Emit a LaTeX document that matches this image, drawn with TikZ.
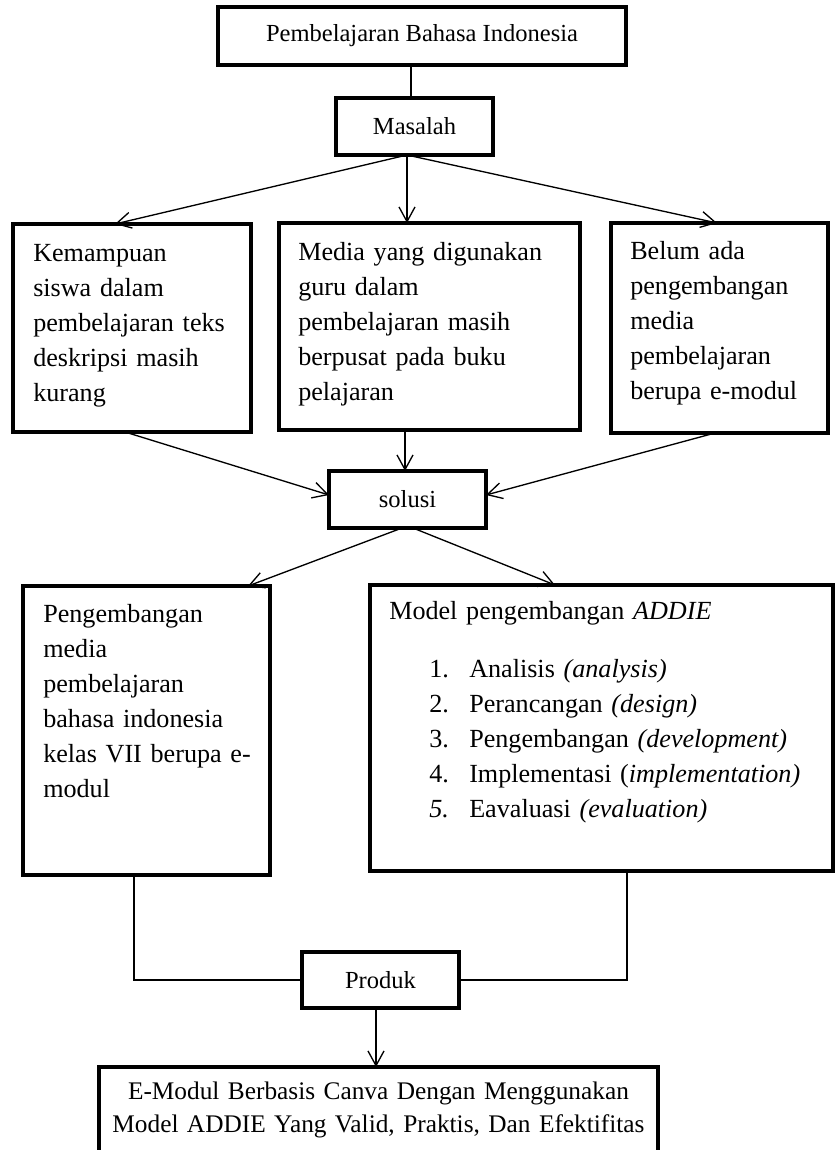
\documentclass[tikz,border=0pt]{standalone}
\usepackage{fontspec}
\setmainfont{Liberation Serif}
\usetikzlibrary{arrows.meta,fit}
\newcommand{\bigf}{\fontsize{19.6}{26.25}\selectfont}
\newcommand{\smallf}{\fontsize{18.4}{22}\selectfont}
\newcommand{\finf}{\fontsize{19}{24.75}\selectfont}
\begin{document}
\begin{tikzpicture}[x=0.75pt,y=-0.75pt,
  box/.style={draw, line width=2.4pt, inner sep=0pt},
  lbl/.style={font=\smallf, inner sep=0pt, anchor=center},
  conn/.style={line width=1pt},
  arr/.style={conn, -{Straight Barb[length=11pt,width=12pt]}},
  para/.style={font=\bigf, anchor=base west, inner sep=0pt, align=left, text width=#1},
]
\useasboundingbox (0,0) rectangle (835,1150);
\clip (0,0) rectangle (835,1150);

% boxes
\node[box, fit={(218,7)(626,65)}] (top) {};
\node[box, fit={(336,98)(493,155)}] (mas) {};
\node[box, fit={(13,224)(251,432)}] (b1) {};
\node[box, fit={(279,223)(580,430)}] (b2) {};
\node[box, fit={(611,223)(828,433)}] (b3) {};
\node[box, fit={(329,471)(486,528)}] (sol) {};
\node[box, fit={(23,586)(270,875)}] (b4) {};
\node[box, fit={(370,585)(833,871)}] (b5) {};
\node[box, fit={(302,952)(459,1008)}] (prod) {};
\node[box, fit={(99,1067)(658,1180)}] (fin) {};

% texts
\node[lbl] (ttop) at (top.center) {Pembelajaran Bahasa Indonesia};
\node[lbl] (tmas) at (mas.center) {Masalah};
\node[lbl] (tsol) at (sol.center) {solusi};
\node[lbl] (tprod) at (prod.center) {Produk};
\node[para=200pt] (t1) at (33,261) {Kemampuan\\siswa dalam\\pembelajaran teks\\deskripsi masih\\kurang};
\node[para=220pt] (t2) at (298,260) {Media yang digunakan\\guru dalam\\pembelajaran masih\\berpusat pada buku\\pelajaran};
\node[para=160pt] (t3) at (630,259) {Belum ada\\pengembangan\\media\\pembelajaran\\berupa e-modul};
\node[para=180pt] (t4) at (43,622) {Pengembangan\\media\\pembelajaran\\bahasa indonesia\\kelas VII berupa e-\\modul};
\node[para=330pt] (t5) at (389,619) {Model pengembangan \textit{ADDIE}\\[17.25pt]
\hspace*{30pt}\makebox[30pt][l]{1.}Analisis \textit{(analysis)}\\
\hspace*{30pt}\makebox[30pt][l]{2.}Perancangan \textit{(design)}\\
\hspace*{30pt}\makebox[30pt][l]{3.}Pengembangan \textit{(development)}\\
\hspace*{30pt}\makebox[30pt][l]{4.}Implementasi (\textit{implementation)}\\
\hspace*{30pt}\makebox[30pt][l]{\textit{5.}}Eavaluasi \textit{(evaluation)}};
\node[font=\finf, align=center, text width=420pt, anchor=base, inner sep=0pt] (ft) at (378.5,1099)
  {E-Modul Berbasis Canva Dengan Menggunakan\\Model ADDIE Yang Valid, Praktis, Dan Efektifitas};

% connector points
\coordinate (c0) at (411,0);
\coordinate (mo) at (407,155);
\coordinate (b1i) at (115,224);
\coordinate (b2i) at (407,223);
\coordinate (b3i) at (717,223);
\coordinate (b1o) at (125,432);
\coordinate (b2o) at (405,430);
\coordinate (b3o) at (715,433);
\coordinate (sw) at (329,495);
\coordinate (sn) at (405,471);
\coordinate (se) at (486,495);
\coordinate (so1) at (402,528);
\coordinate (so2) at (413,528);
\coordinate (b4i) at (248,586);
\coordinate (b5i) at (555,585);
\coordinate (b4o) at (134,875);
\coordinate (b5o) at (627,871);
\coordinate (po) at (376,1008);
\coordinate (fi) at (376,1067);

% connectors
\draw[conn] (top.south -| c0) -- (mas.north -| c0);
\draw[arr] (mo) -- (b1i);
\draw[arr] (mo) -- (b2i);
\draw[arr] (mo) -- (b3i);
\draw[arr] (b1o) -- (sw);
\draw[arr] (b2o) -- (sn);
\draw[arr] (b3o) -- (se);
\draw[arr] (so1) -- (b4i);
\draw[arr] (so2) -- (b5i);
\draw[conn] (b4o) |- (prod.west);
\draw[conn] (b5o) |- (prod.east);
\draw[arr] (po) -- (fi);
\end{tikzpicture}
\end{document}
